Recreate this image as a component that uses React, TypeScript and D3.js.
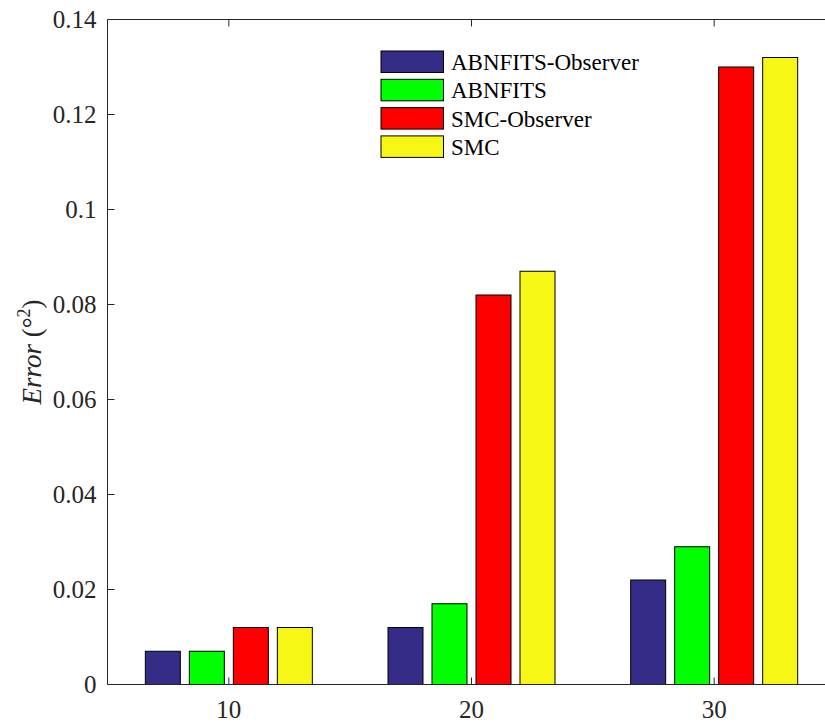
import React from "react";
import * as d3 from "d3";

const categories = [10, 20, 30];
const seriesNames = ["ABNFITS-Observer", "ABNFITS", "SMC-Observer", "SMC"];
const seriesColors = ["#342c87", "#00ff00", "#ff0000", "#f7f715"];
const abnfitsObserver = [0.007, 0.012, 0.022];
const abnfits = [0.007, 0.017, 0.029];
const smcObserver = [0.012, 0.082, 0.13];
const smc = [0.012, 0.087, 0.132];
const yTicks = [0, 0.02, 0.04, 0.06, 0.08, 0.1, 0.12, 0.14];

export default function App() {
  const W = 825, H = 722;
  const left = 107.5, top = 19.5, bottom = 684.5;
  const x = d3.scaleLinear().domain([5, 35]).range([left, left + 728]);
  const y = d3.scaleLinear().domain([0, 0.14]).range([bottom, top]);
  const series = [abnfitsObserver, abnfits, smcObserver, smc];
  const barW = 35;
  const offsets = [-66, -22, 22, 66];
  const axisColor = "#262626";
  const font = "'Liberation Serif', 'Times New Roman', serif";
  return (
    <svg width={W} height={H} style={{ position: "absolute", left: 0, top: 0, background: "#fff" }} fontFamily={font}>
      {series.map((vals, si) =>
        vals.map((v, ci) => (
          <rect key={`${si}-${ci}`} x={x(categories[ci]) + offsets[si] - barW / 2} y={y(v)} width={barW} height={bottom - y(v)}
            fill={seriesColors[si]} stroke="#000" strokeWidth={1} />
        ))
      )}
      <line x1={left} x2={W} y1={top} y2={top} stroke={axisColor} strokeWidth={1} />
      <line x1={left} x2={W} y1={bottom} y2={bottom} stroke={axisColor} strokeWidth={1} />
      <line x1={left} x2={left} y1={top} y2={bottom} stroke={axisColor} strokeWidth={1} />
      {yTicks.map((t) => (
        <g key={t}>
          <line x1={left} x2={left + 7} y1={y(t)} y2={y(t)} stroke={axisColor} />
          <text x={left - 11} y={y(t)} dy="0.35em" textAnchor="end" fontSize={25} fill="#262626">{d3.format("~g")(t)}</text>
        </g>
      ))}
      {categories.map((c) => (
        <g key={c}>
          <line x1={x(c)} x2={x(c)} y1={bottom} y2={bottom - 7} stroke={axisColor} />
          <line x1={x(c)} x2={x(c)} y1={top} y2={top + 7} stroke={axisColor} />
          <text x={x(c)} y={718} textAnchor="middle" fontSize={25} fill="#262626">{c}</text>
        </g>
      ))}
      <text transform={`translate(41, ${(top + bottom) / 2}) rotate(-90)`} textAnchor="middle" fontSize={27} fill="#262626">
        <tspan fontStyle="italic">Error</tspan>
        <tspan> (°</tspan>
        <tspan fontSize={18} dy={-11}>2</tspan>
        <tspan dy={11}>)</tspan>
      </text>
      {seriesNames.map((n, i) => (
        <g key={n}>
          <rect x={381} y={51 + i * 28.3} width={62.5} height={21.5} fill={seriesColors[i]} stroke="#000" strokeWidth={1} />
          <text x={451} y={62 + i * 28.3} dy="0.35em" fontSize={23} fill="#000">{n}</text>
        </g>
      ))}
    </svg>
  );
}
